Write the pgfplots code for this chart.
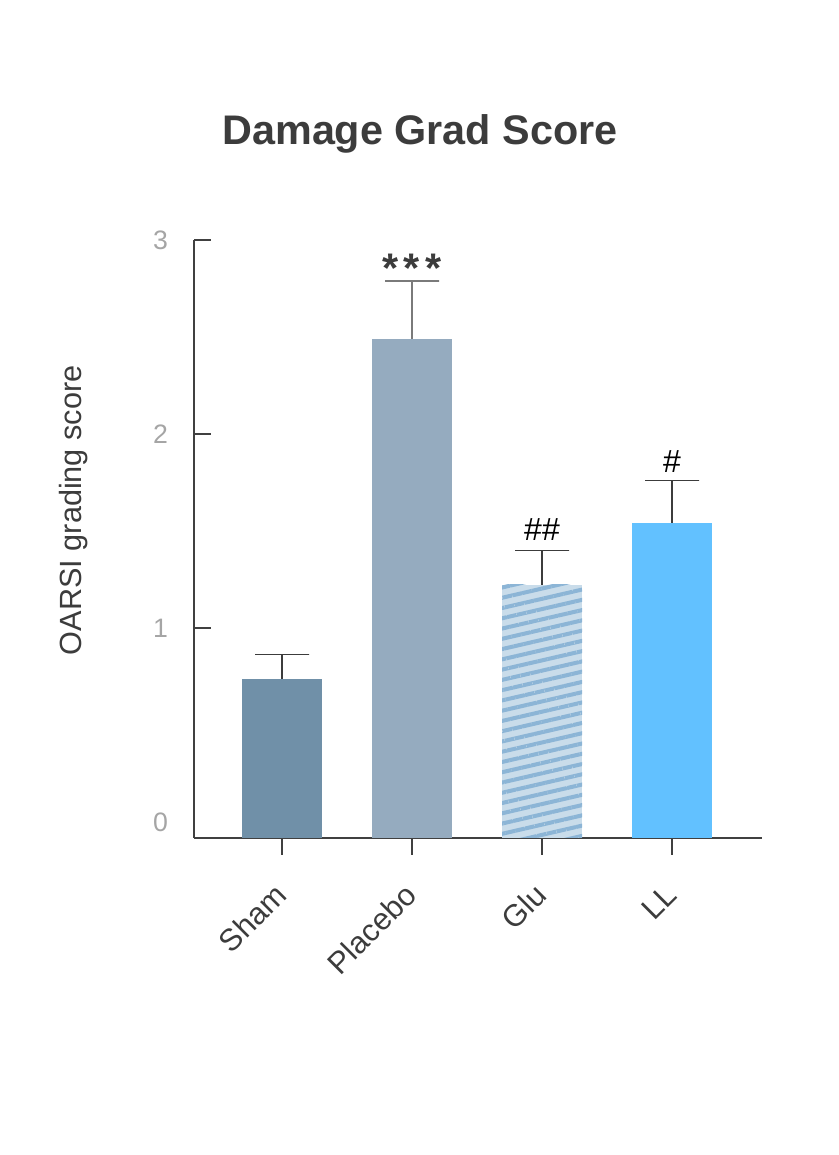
\documentclass[border=0pt]{standalone}
\usepackage{fontspec}
\setmainfont{Liberation Sans}
\usepackage{pgfplots}
\pgfplotsset{compat=1.18}
\usetikzlibrary{patterns.meta}
\definecolor{shamc}{HTML}{7090A8}
\definecolor{placc}{HTML}{95ABBF}
\definecolor{gluc}{HTML}{C9DCEA}
\definecolor{glus}{HTML}{8CB5D6}
\definecolor{llc}{HTML}{62C1FF}
\definecolor{axisc}{HTML}{404040}
\definecolor{ytc}{HTML}{A5A5A5}
\definecolor{txtc}{HTML}{3C3C3C}
\definecolor{errc}{HTML}{3C3C3C}
\definecolor{errp}{HTML}{7A7A7A}
\begin{document}
\begin{tikzpicture}
\useasboundingbox (0,0) rectangle (628.5pt,866.25pt);
\node[anchor=base, font=\bfseries\fontsize{31}{36}\selectfont, text=txtc, inner sep=0pt] at (315pt,757.5pt) {Damage Grad Score};
\begin{axis}[
  at={(145.5pt,237.75pt)}, anchor=south west,
  scale only axis, width=426pt, height=448.5pt,
  xmin=-0.677, xmax=3.692, ymin=-0.0825, ymax=3,
  axis lines=left,
  axis line style={-, line width=1.5pt, draw=axisc},
  xtick={0,1,2,3}, xticklabels={Sham,Placebo,Glu,LL},
  ytick={1,2,3}, extra y ticks={0},
  extra y tick style={major tick length=0pt},
  xtick align=outside, ytick align=inside,
  major tick length=12.5pt,
  tick style={line width=1.5pt, draw=axisc},
  /pgf/number format/assume math mode=true,
  x tick label style={font=\fontsize{23}{26}\selectfont, text=txtc, xshift=1.5pt, yshift=-24pt, rotate=45, anchor=east},
  y tick label style={font=\fontsize{20}{23}\selectfont, text=ytc, xshift=-16pt},
  ylabel={OARSI grading score},
  ylabel style={at={(axis description cs:-0.212,0.548)}, anchor=center, font=\fontsize{23}{26}\selectfont, text=txtc},
  clip=false,
]
% bars
\addplot[fill=shamc, draw=none] coordinates {(-0.3077,-0.0825) (-0.3077,0.737) (0.3077,0.737) (0.3077,-0.0825)};
\addplot[fill=placc, draw=none] coordinates {(0.6923,-0.0825) (0.6923,2.49) (1.3077,2.49) (1.3077,-0.0825)};
\addplot[fill=gluc, draw=none, postaction={pattern={Lines[angle=13,distance=7.5pt,line width=3pt]}, pattern color=glus}] coordinates {(1.6923,-0.0825) (1.6923,1.222) (2.3077,1.222) (2.3077,-0.0825)};
\addplot[fill=llc, draw=none] coordinates {(2.6923,-0.0825) (2.6923,1.54) (3.3077,1.54) (3.3077,-0.0825)};
% error bars (cap, then stem down to the bar top)
\addplot[draw=errc, line width=1pt, mark=none] coordinates {(-0.2077,0.864) (0.2077,0.864) (0,0.864) (0,0.737)};
\addplot[draw=errp, line width=1.4pt, mark=none] coordinates {(0.7923,2.79) (1.2077,2.79) (1,2.79) (1,2.49)};
\addplot[draw=errc, line width=1pt, mark=none] coordinates {(1.7923,1.40) (2.2077,1.40) (2,1.40) (2,1.222)};
\addplot[draw=errc, line width=1pt, mark=none] coordinates {(2.7923,1.76) (3.2077,1.76) (3,1.76) (3,1.54)};
% significance marks
\node[anchor=north, inner sep=0pt, font=\bfseries\fontsize{31}{36}\selectfont, text=txtc] at (axis cs:1,2.928) {*\hspace{4pt}*\hspace{4pt}*};
\node[anchor=north, inner sep=0pt, font=\fontsize{24}{28}\selectfont, text=black] at (axis cs:2,1.567) {\#\#};
\node[anchor=north, inner sep=0pt, font=\fontsize{24}{28}\selectfont, text=black] at (axis cs:3,1.918) {\#};
\end{axis}
\end{tikzpicture}
\end{document}
